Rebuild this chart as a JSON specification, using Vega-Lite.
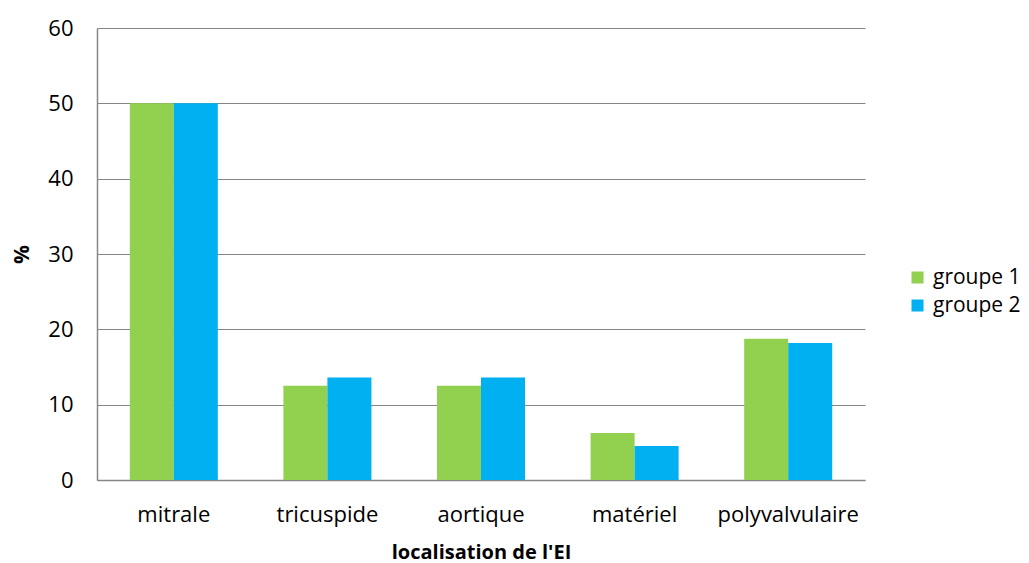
{
  "$schema": "https://vega.github.io/schema/vega-lite/v6.json",
  "autosize": {"type": "none"},
  "width": 768,
  "height": 452,
  "padding": {"left": 97, "top": 28, "right": 164, "bottom": 83},
  "background": "white",
  "data": {"values": [
    {"loc": "mitrale", "groupe": "groupe 1", "pct": 50},
    {"loc": "mitrale", "groupe": "groupe 2", "pct": 50},
    {"loc": "tricuspide", "groupe": "groupe 1", "pct": 12.5},
    {"loc": "tricuspide", "groupe": "groupe 2", "pct": 13.6},
    {"loc": "aortique", "groupe": "groupe 1", "pct": 12.5},
    {"loc": "aortique", "groupe": "groupe 2", "pct": 13.6},
    {"loc": "matériel", "groupe": "groupe 1", "pct": 6.25},
    {"loc": "matériel", "groupe": "groupe 2", "pct": 4.5},
    {"loc": "polyvalvulaire", "groupe": "groupe 1", "pct": 18.75},
    {"loc": "polyvalvulaire", "groupe": "groupe 2", "pct": 18.2}
  ]},
  "mark": {"type": "bar"},
  "encoding": {
    "x": {
      "field": "loc", "type": "nominal",
      "sort": ["mitrale", "tricuspide", "aortique", "matériel", "polyvalvulaire"],
      "scale": {"paddingInner": 0.427, "paddingOuter": 0.2135},
      "axis": {
        "title": "localisation de l'EI",
        "titleFont": "Open Sans", "titleFontSize": 20, "titleFontWeight": "bold", "titleColor": "#000",
        "titlePadding": 17,
        "labelFont": "Open Sans", "labelFontSize": 22, "labelColor": "#000", "labelAngle": 0,
        "labelPadding": 24,
        "ticks": false, "domainColor": "#868686", "domainWidth": 1.5
      }
    },
    "xOffset": {"field": "groupe", "type": "nominal", "scale": {"paddingInner": 0, "paddingOuter": 0}},
    "y": {
      "field": "pct", "type": "quantitative",
      "scale": {"domain": [0, 60]},
      "axis": {
        "title": "%", "titleFont": "Open Sans", "titleFontSize": 21, "titleFontWeight": "bold", "titleColor": "#000",
        "titlePadding": 15,
        "values": [0, 10, 20, 30, 40, 50, 60],
        "labelFont": "Open Sans", "labelFontSize": 22, "labelColor": "#000", "labelPadding": 24,
        "ticks": false, "domainColor": "#868686", "domainWidth": 1.5,
        "gridColor": "#868686", "gridWidth": 1.2
      }
    },
    "color": {
      "field": "groupe", "type": "nominal",
      "scale": {"domain": ["groupe 1", "groupe 2"], "range": ["#92D050", "#00B0F0"]},
      "legend": {
        "title": null, "orient": "none", "legendX": 810, "legendY": 239,
        "symbolType": "square", "symbolSize": 144, "symbolStrokeWidth": 0, "symbolOpacity": 1,
        "labelFont": "Open Sans", "labelFontSize": 21, "labelColor": "#000", "labelOffset": 5,
        "rowPadding": 6
      }
    }
  },
  "config": {"view": {"stroke": null}}
}
